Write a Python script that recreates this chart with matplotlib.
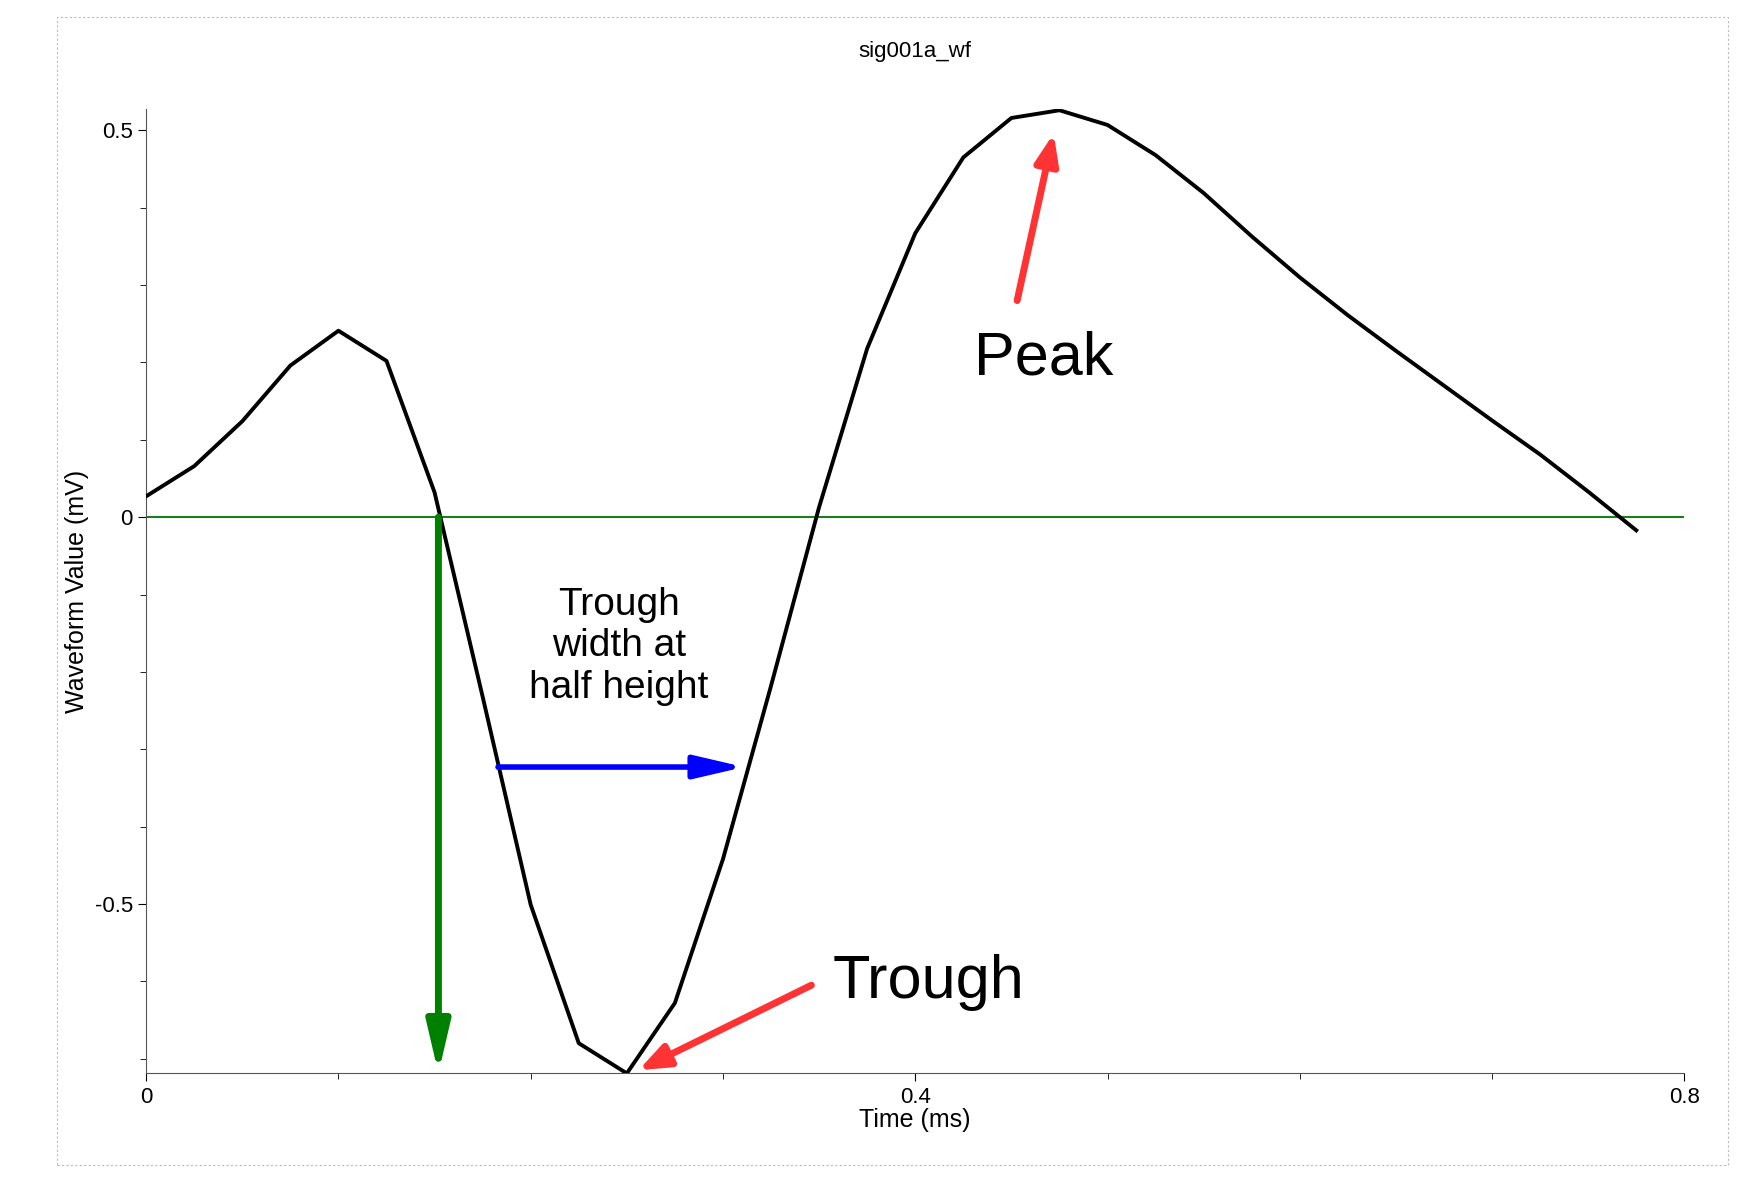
import numpy as np
import matplotlib
matplotlib.use("Agg")
import matplotlib.pyplot as plt
from matplotlib.patches import Rectangle, FancyArrowPatch

time_ms = [i * 0.025 for i in range(32)]
waveform = [0.027, 0.066, 0.124, 0.196, 0.241, 0.202, 0.032, -0.232, -0.501, -0.680,
            -0.719, -0.628, -0.442, -0.218, 0.013, 0.218, 0.367, 0.465, 0.516, 0.526,
            0.507, 0.468, 0.419, 0.363, 0.310, 0.261, 0.215, 0.170, 0.125, 0.081,
            0.033, -0.017]
xticks = [0, 0.4, 0.8]
xticklabels = ["0", "0.4", "0.8"]
yticks = [-0.5, 0, 0.5]
yticklabels = ["-0.5", "0", "0.5"]

plt.rcParams['font.family'] = ['Arial', 'Liberation Sans', 'DejaVu Sans']
fig = plt.figure(figsize=(17.4, 11.9), dpi=100)
ax = fig.add_axes([0.084, 0.098, 0.884, 0.81])
fig.patches.append(Rectangle((0.033, 0.021), 0.96, 0.965, transform=fig.transFigure,
                             fill=False, ls=(0, (2, 2)), lw=0.8, ec='#bbbbbb'))

ax.axhline(0, color='#1a7f1a', lw=1.5, zorder=1)
ax.plot(time_ms, waveform, color='black', lw=2.8, zorder=3)
ax.set_xlim(0, 0.8)
ax.set_ylim(-0.719, 0.527)
ax.set_xticks(xticks, xticklabels)
ax.set_yticks(yticks, yticklabels)
ax.set_xticks(np.arange(0, 0.81, 0.1), minor=True)
ax.set_yticks(np.arange(-0.7, 0.55, 0.1), minor=True)
ax.tick_params(labelsize=16, length=6, direction='out')
ax.tick_params(which='minor', length=4)
for s in ['top', 'right']:
    ax.spines[s].set_visible(False)
ax.spines['left'].set_color('#555555')
ax.spines['bottom'].set_color('#555555')
ax.set_xlabel("Time (ms)", fontsize=18, labelpad=0)
ax.set_ylabel("Waveform Value (mV)", fontsize=18)
ax.set_title("sig001a_wf", fontsize=16, pad=38)

ax.add_patch(FancyArrowPatch((0.152, 0), (0.152, -0.719), arrowstyle='-|>,head_length=30,head_width=7',
                             color='green', lw=5, zorder=4, shrinkA=0, shrinkB=0))
ax.add_patch(FancyArrowPatch((0.183, -0.323), (0.311, -0.323), arrowstyle='-|>,head_length=30,head_width=7',
                             color='blue', lw=4, zorder=4, shrinkA=0, shrinkB=0))
ax.add_patch(FancyArrowPatch((0.453, 0.28), (0.472, 0.496), arrowstyle='-|>,head_length=18,head_width=7',
                             color='#ff3333', lw=5, zorder=4, shrinkA=0, shrinkB=0))
ax.add_patch(FancyArrowPatch((0.346, -0.605), (0.256, -0.715), arrowstyle='-|>,head_length=18,head_width=7',
                             color='#ff3333', lw=5, zorder=4, shrinkA=0, shrinkB=0))
ax.text(0.467, 0.205, "Peak", fontsize=44, ha='center', va='center')
ax.text(0.407, -0.602, "Trough", fontsize=44, ha='center', va='center')
ax.text(0.246, -0.167, "Trough\nwidth at\nhalf height", fontsize=28, ha='center', va='center',
        linespacing=1.2)

fig.savefig("out.png")
